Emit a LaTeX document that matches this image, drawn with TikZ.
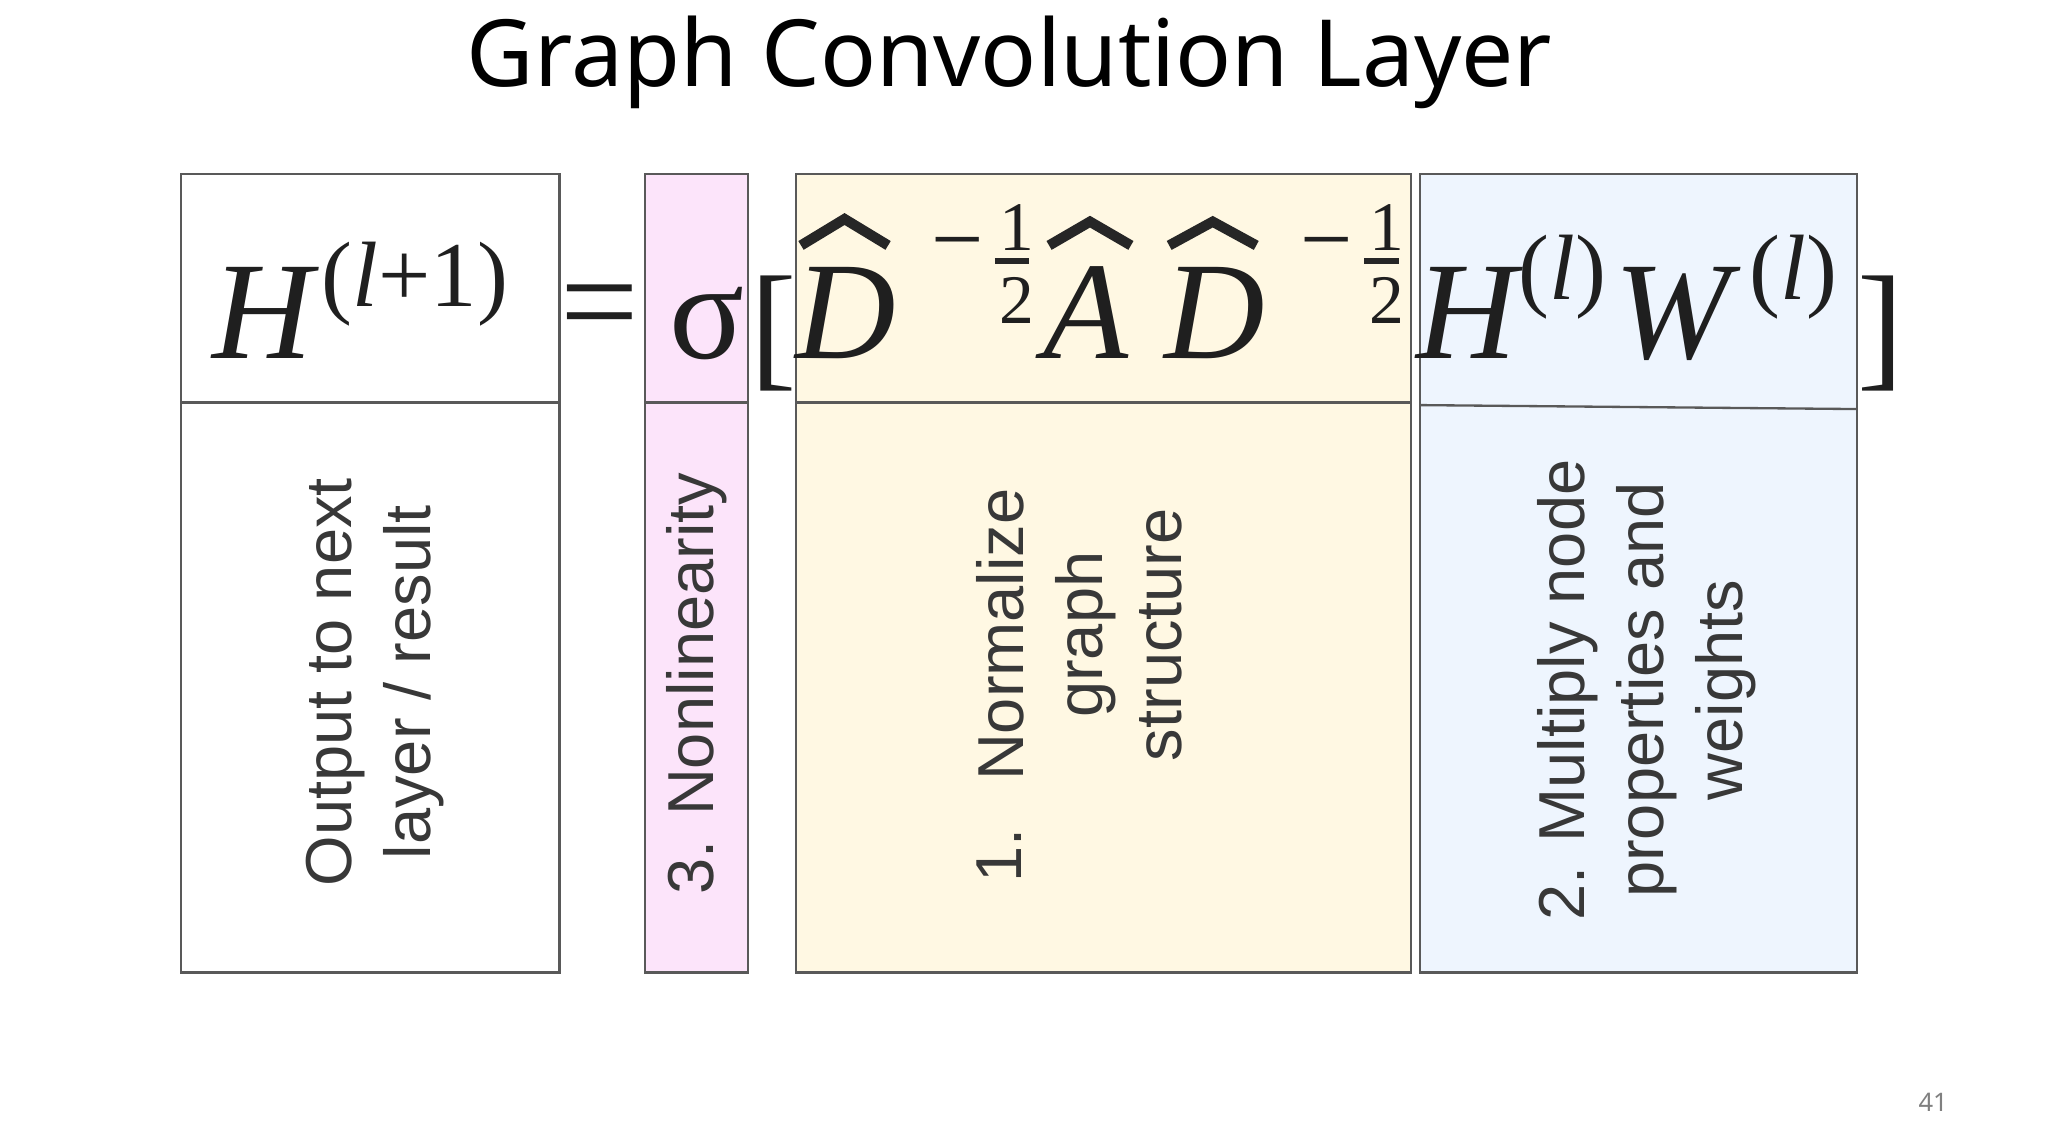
\documentclass[tikz,border=0pt]{standalone}
\usepackage{fontspec}
\setmainfont{Liberation Serif}
\newfontfamily\labfont{Liberation Sans}
\newfontfamily\titfont{Noto Sans}
\definecolor{pinkbox}{HTML}{FCE4FA}
\definecolor{yelbox}{HTML}{FFF8E3}
\definecolor{bluebox}{HTML}{EEF5FE}
\begin{document}
\begin{tikzpicture}[x=0.01cm,y=-0.01cm,
  box/.style={draw=black!65,line width=0.5pt},
  lab/.style={font=\labfont\fontsize{14}{17}\selectfont,text=black!78,rotate=90,align=center,inner sep=0},
  big/.style={font=\fontsize{30}{30}\selectfont\itshape,anchor=base west,inner sep=0,text=black!88},
  sup/.style={font=\fontsize{20}{20}\selectfont,anchor=base west,inner sep=0,text=black!88},
  hat/.style={line width=2.2pt,black!85,line join=miter}]
\useasboundingbox (0,0) rectangle (1552,868);
\fill[white] (0,0) rectangle (1552,868);
\node[font=\titfont\fontsize{20}{24}\selectfont] (title) at (765,47) {Graph Convolution Layer};
% boxes
\draw[box] (137,132) rectangle (424,737);
\draw[box] (137,305) -- (424,305);
\draw[box,fill=pinkbox] (489,132) rectangle (567,737);
\draw[box] (489,305) -- (567,305);
\draw[box,fill=yelbox] (603,132) rectangle (1069,737);
\draw[box] (603,305) -- (1069,305);
\draw[box,fill=bluebox] (1076,132) rectangle (1407,737);
\draw[box] (1076,307) -- (1407,310);
% formula
\node[big] (h1) at (160,272) {H};
\node[sup] (h1s) at (243,232) {(\textit{l}+1)};
\node[big,font=\fontsize{30}{30}\selectfont] (eq) at (424,264) {=};
\node[big,font=\fontsize{30}{30}\selectfont] (sig) at (507,272) {σ};
\node[big,font=\fontsize{30}{30}\selectfont] (lb) at (568,282) {[};
\node[big] (d1) at (602,272) {D};
\node[sup] (m1) at (705,205) {−};
\node[sup,font=\fontsize{15}{15}\selectfont] (n1) at (757,190) {1};
\node[sup,font=\fontsize{15}{15}\selectfont] (q1) at (757,245) {2};
\draw[line width=1.2pt,black!85] (754,198) -- (780,198);
\node[big] (a1) at (790,272) {A};
\node[big] (d2) at (882,272) {D};
\node[sup] (m2) at (985,205) {−};
\node[sup,font=\fontsize{15}{15}\selectfont] (n2) at (1037,190) {1};
\node[sup,font=\fontsize{15}{15}\selectfont] (q2) at (1037,245) {2};
\draw[line width=1.2pt,black!85] (1034,198) -- (1060,198);
\draw[hat] (607,186) -- (640,166) -- (673,186);
\draw[hat] (795,186) -- (826,168) -- (857,186);
\draw[hat] (886,186) -- (919,168) -- (952,186);
\node[big] (h2) at (1073,272) {H};
\node[sup] (h2s) at (1150,227) {(\textit{l})};
\node[big] (w2) at (1223,272) {W};
\node[sup] (w2s) at (1325,227) {(\textit{l})};
\node[big,font=\fontsize{30}{30}\selectfont] (rb) at (1407,282) {]};
% labels
\node[lab] (l1) at (284,517) {Output to next\\layer / result};
\node[lab] (l2) at (528,518) {3. Nonlinearity};
\node[lab] (l3a) at (757,648) {1.};
\node[lab] (l3) at (818,481) {Normalize\\graph\\structure};
\node[lab] (l4) at (1248,523) {2. Multiply node\\properties and\\weights};
\node[font=\titfont\fontsize{5.5}{6}\selectfont,text=black!50] (pg) at (1465,835) {41};
\end{tikzpicture}
\end{document}
